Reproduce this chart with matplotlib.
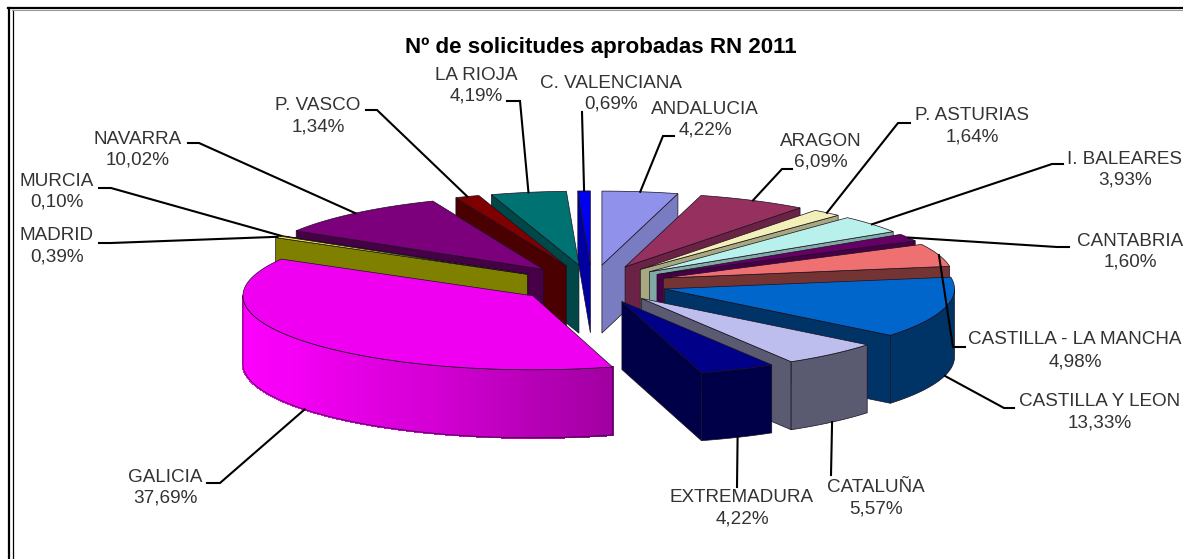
import numpy as np
import matplotlib
matplotlib.use("Agg")
import matplotlib.pyplot as plt
from matplotlib.patches import Polygon

plt.rcParams["font.family"] = ["Liberation Sans", "DejaVu Sans"]

regiones = ["ANDALUCIA", "ARAGON", "P. ASTURIAS", "I. BALEARES", "CANTABRIA",
            "CASTILLA - LA MANCHA", "CASTILLA Y LEON", "CATALUÑA", "EXTREMADURA",
            "GALICIA", "MADRID", "MURCIA", "NAVARRA", "P. VASCO", "LA RIOJA",
            "C. VALENCIANA"]
porcentajes = [4.22, 6.09, 1.64, 3.93, 1.60, 4.98, 13.33, 5.57, 4.22,
               37.69, 0.39, 0.10, 10.02, 1.34, 4.19, 0.69]
color_top = ["#8F91EA", "#96305F", "#F2F0B8", "#B8F0EC", "#660066", "#EE7070",
             "#0066CC", "#BDBDEE", "#000088", "#F000F0", "#E8E840", "#333300",
             "#7C007C", "#800000", "#007272", "#0000F0"]
color_side = ["#7A7CC2", "#6A2344", "#A8A880", "#80A8A4", "#470047", "#753434",
              "#003366", "#5A5A70", "#000048", "#A000A0", "#808000", "#222200",
              "#470047", "#4A0000", "#004747", "#0000A0"]

# pie geometry in image pixels
cx, cy = 592, 284
radius = 290
squash = 0.255
explode = 75
depth = 68

# label layout: text centre x, first/second line y, leader points after the anchor
label_pos = [(705, 109, 130), (821, 141, 162), (972, 116, 137), (1125, 159, 180),
             (1130, 241, 262), (1075, 340, 362), (1100, 402, 423), (876, 488, 509),
             (742, 498, 519), (165, 477, 498), (57, 236, 257), (57, 182, 202),
             (138, 139, 160), (318, 105, 127), (476, 75, 96), (611, 83, 104)]
leaders = [[(663, 136), (674, 136)], [(782, 169), (792, 169)], [(898, 123), (910, 123)],
           [(1052, 164), (1063, 164)], [(1057, 247), (1069, 247)], [(953, 347), (965, 347)],
           [(1004, 408), (1014, 408)], [(831, 475)], [(737, 487)],
           [(220, 483), (207, 483)], [(111, 243), (99, 243)], [(111, 188), (99, 188)],
           [(199, 143), (188, 143)], [(377, 110), (366, 110)], [(520, 101), (507, 101)],
           [(582, 112)]]

# shading of the big slice side, by angle
galicia_ang = [164, 200, 235, 270]
galicia_rgb = [(160, 0, 160), (212, 0, 212), (245, 0, 245), (255, 0, 255)]


def point(apex, theta, r=radius):
    t = np.radians(theta)
    return apex[0] + r * np.sin(t), apex[1] - r * np.cos(t) * squash


def draw_slice(ax, start, end, top, side, z, shaded=False):
    mid = (start + end) / 2
    apex = point((cx, cy), mid, explode)
    edge = {"edgecolor": "#1a1020", "linewidth": 0.5, "zorder": z}

    # cut faces, only those turned to the viewer
    for theta, visible in ((start, 180 < start < 360), (end, 0 < end < 180)):
        if visible:
            p = point(apex, theta)
            ax.add_patch(Polygon([apex, p, (p[0], p[1] + depth), (apex[0], apex[1] + depth)],
                                 facecolor=side, **edge))

    # outer wall, front half only
    lo, hi = max(start, 90), min(end, 270)
    if lo < hi:
        angs = np.linspace(lo, hi, int((hi - lo) * 2) + 2)
        arc = np.array([point(apex, a) for a in angs])
        if shaded:
            for i in range(len(angs) - 1):
                rgb = [np.interp(angs[i], galicia_ang, [c[k] for c in galicia_rgb]) / 255
                       for k in range(3)]
                quad = [arc[i], arc[i + 1], arc[i + 1] + (0, depth), arc[i] + (0, depth)]
                ax.add_patch(Polygon(quad, facecolor=rgb, edgecolor=rgb, linewidth=1.0,
                                     antialiased=False, zorder=z))
        wall = np.vstack([arc, arc[::-1] + (0, depth)])
        ax.add_patch(Polygon(wall, facecolor="none" if shaded else side, **edge))

    # top surface
    angs = np.linspace(start, end, int((end - start) * 2) + 2)
    ax.add_patch(Polygon([apex] + [point(apex, a) for a in angs], facecolor=top, **edge))
    return apex


fig = plt.figure(figsize=(11.83, 5.59), dpi=100)
ax = fig.add_axes([0, 0, 1, 1])
ax.set_xlim(0, 1183)
ax.set_ylim(559, 0)
ax.axis("off")

# frame: double rule at left and top
ax.plot([9.2, 9.2], [8, 558], color="black", lw=1.6, zorder=1)
ax.plot([12.6, 12.6], [10, 558], color="black", lw=0.9, zorder=1)
ax.plot([8.5, 1183], [8, 8], color="black", lw=1.6, zorder=1)
ax.plot([12, 1183], [10, 10], color="#999999", lw=0.8, zorder=1)

fracs = np.array(porcentajes) / sum(porcentajes) * 360
ends = np.cumsum(fracs)
starts = ends - fracs
mids = (starts + ends) / 2

# paint from the back of the pie to the front
order = np.argsort(-np.cos(np.radians(mids)))
for rank, i in enumerate(order):
    draw_slice(ax, starts[i], ends[i], color_top[i], color_side[i], 3 + rank,
               shaded=regiones[i] == "GALICIA")

for i, name in enumerate(regiones):
    apex = point((cx, cy), mids[i], explode)
    ax_pt = point(apex, mids[i])
    if 90 < mids[i] < 270:
        ax_pt = (ax_pt[0], ax_pt[1] + depth)
    pts = [ax_pt] + leaders[i]
    ax.plot([p[0] for p in pts], [p[1] for p in pts], color="black", lw=1.5, zorder=40,
            solid_joinstyle="miter")
    x, y1, y2 = label_pos[i]
    ax.text(x, y1, name, ha="center", va="center", fontsize=13.6, color="#333333", zorder=41)
    ax.text(x, y2, f"{porcentajes[i]:.2f}".replace(".", ",") + "%", ha="center", va="center",
            fontsize=13.6, color="#333333", zorder=41)

ax.text(601, 47, "Nº de solicitudes aprobadas RN 2011", ha="center", va="center",
        fontsize=16.1, fontweight="bold", color="black", zorder=41)

fig.savefig("out.png", dpi=100)
plt.close(fig)
